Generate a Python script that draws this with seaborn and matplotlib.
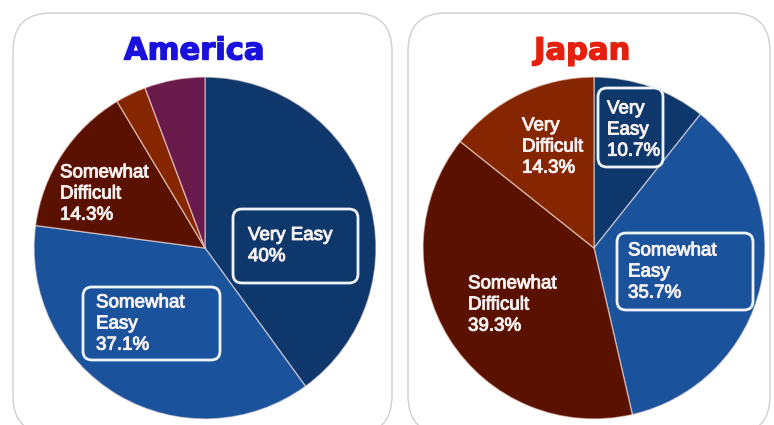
import matplotlib
matplotlib.use("Agg")
import matplotlib.pyplot as plt
from matplotlib.patches import FancyBboxPatch
import matplotlib.patheffects as pe
import seaborn as sns

# ---- data -------------------------------------------------------------
america_categories = ["Very Easy", "Somewhat Easy", "Somewhat Difficult",
                      "Very Difficult", "No Answer"]
america_values = [40, 37.1, 14.3, 2.9, 5.7]

japan_categories = ["Very Easy", "Somewhat Easy", "Somewhat Difficult",
                    "Very Difficult"]
japan_values = [10.7, 35.7, 39.3, 14.3]

category_colors = {
    "Very Easy": "#0e386b",
    "Somewhat Easy": "#1a529b",
    "Somewhat Difficult": "#5a1100",
    "Very Difficult": "#862600",
    "No Answer": "#6a1a4a",
}

# ---- style ------------------------------------------------------------
sns.set_theme(style="white")
plt.rcParams["font.family"] = ["Liberation Sans", "DejaVu Sans"]

W, H, DPI = 774, 425, 100
fig = plt.figure(figsize=(W / DPI, H / DPI), dpi=DPI)
fig.patch.set_facecolor("white")

# background / foreground layers in pixel coordinates (y grows downward)
bg = fig.add_axes([0, 0, 1, 1], zorder=0)
fg = fig.add_axes([0, 0, 1, 1], zorder=5)
for a in (bg, fg):
    a.set_xlim(0, W)
    a.set_ylim(H, 0)
    a.axis("off")
    a.patch.set_alpha(0)


def panel(x0, y0, x1, y1):
    bg.add_patch(FancyBboxPatch((x0, y0), x1 - x0, y1 - y0,
                                boxstyle="round,pad=0,rounding_size=38",
                                fc="white", ec="#cfcfcf", lw=1.0))


def pie_axes(cx, cy, r, categories, values):
    ax = fig.add_axes([(cx - r) / W, (H - cy - r) / H, 2 * r / W, 2 * r / H],
                      zorder=2)
    colors = sns.color_palette([category_colors[c] for c in categories])
    ax.pie(values, colors=colors, startangle=90, counterclock=False,
           radius=1.0,
           wedgeprops=dict(edgecolor=(1, 0.92, 0.9, 0.55), linewidth=1.0))
    ax.set_xlim(-1, 1)
    ax.set_ylim(-1, 1)
    ax.set_aspect("auto")
    ax.axis("off")
    return ax


TEXT_COLOR = "#f7f1f1"


def label(x, y, text, box=None):
    fg.text(x, y, text, ha="left", va="center", color=TEXT_COLOR,
            fontsize=13.5, linespacing=1.32,
            path_effects=[pe.withStroke(linewidth=0.7,
                                        foreground=TEXT_COLOR)])
    if box is not None:
        x0, y0, x1, y1 = box
        fg.add_patch(FancyBboxPatch((x0, y0), x1 - x0, y1 - y0,
                                    boxstyle="round,pad=0,rounding_size=9",
                                    fc="none", ec="#eef3f8", lw=2.0))


# panels
panel(13, 13, 392, 434)
panel(408, 13, 770, 434)

# titles
fg.text(194, 51, "America", ha="center", va="center", fontsize=22,
        fontweight="bold", color="#1a12dc", family="DejaVu Sans",
        path_effects=[pe.withStroke(linewidth=1.0, foreground="#1a12dc")])
fg.text(582, 51, "Japan", ha="center", va="center", fontsize=22,
        fontweight="bold", color="#e5200e", family="DejaVu Sans",
        path_effects=[pe.withStroke(linewidth=1.0, foreground="#e5200e")])

# pies
pie_axes(205, 248, 171, america_categories, america_values)
pie_axes(594, 248, 171, japan_categories, japan_values)

# slice labels
av = dict(zip(america_categories, america_values))
jv = dict(zip(japan_categories, japan_values))

label(248, 246, f"Very Easy\n{av['Very Easy']:g}%", box=(233, 209, 358, 283))
label(96, 324, f"Somewhat\nEasy\n{av['Somewhat Easy']:g}%",
      box=(83, 287, 220, 360))
label(60, 194, f"Somewhat\nDifficult\n{av['Somewhat Difficult']:g}%")

label(607, 130, f"Very\nEasy\n{jv['Very Easy']:g}%", box=(598, 88, 663, 167))
label(522, 147, f"Very\nDifficult\n{jv['Very Difficult']:g}%")
label(628, 272, f"Somewhat\nEasy\n{jv['Somewhat Easy']:g}%",
      box=(617, 233, 753, 310))
label(468, 305, f"Somewhat\nDifficult\n{jv['Somewhat Difficult']:g}%")

fig.savefig("out.png", dpi=DPI, facecolor="white")
